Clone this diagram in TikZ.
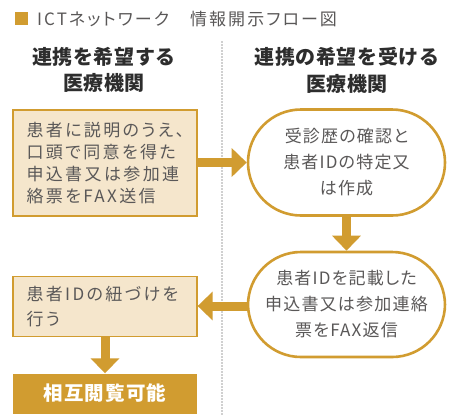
\documentclass[tikz,border=0pt]{standalone}
\usepackage{fontspec}
\usetikzlibrary{arrows.meta}
\newfontfamily\jptitle[LetterSpace=12,RawFeature=+palt]{Noto Sans CJK JP}
\newfontfamily\jphead[LetterSpace=3]{Noto Sans CJK JP}
\newfontfamily\jpbox[LetterSpace=14,RawFeature=+palt]{Noto Sans CJK JP}
\newfontfamily\jpell[LetterSpace=7,RawFeature=+palt]{Noto Sans CJK JP}
\newfontfamily\jpfin[LetterSpace=6]{Noto Sans CJK JP}
\definecolor{gold}{RGB}{209,156,48}
\definecolor{beige}{RGB}{245,230,204}
\definecolor{txt}{RGB}{90,88,88}
\definecolor{headtxt}{RGB}{45,45,45}
\definecolor{dotc}{RGB}{160,160,160}
\tikzset{
  sqmark/.style={fill=gold, minimum width=13, minimum height=13, inner sep=0},
  titletxt/.style={text=txt, font=\jptitle\fontsize{17}{18}\selectfont, inner sep=0},
  headtxt/.style={text=headtxt, font=\jphead\bfseries\fontsize{20}{26.7}\selectfont, align=center, inner sep=0},
  boxst/.style={draw=gold, fill=beige, line width=1.3, minimum width=184, text width=157, inner xsep=13.5, inner ysep=0, align=left, text=txt},
  pill/.style={draw=gold, fill=white, line width=2.6, minimum width=197, rounded corners=53, align=center, text=txt, inner sep=0, font=\jpell\fontsize{17}{26}\selectfont},
  finalbox/.style={fill=gold, minimum width=184, minimum height=40, inner sep=0, text=white, font=\jpfin\bfseries\fontsize{19.5}{22}\selectfont},
  bigarrow/.style={draw=gold, line width=9, -{Triangle[length=15pt,width=28pt]}},
  dotline/.style={draw=dotc, line width=1.6, line cap=round, dash pattern=on 0pt off 3pt}
}
\begin{document}
\begin{tikzpicture}[x=1pt,y=-1pt]
\useasboundingbox[fill=white] (0,0) rectangle (454,416);
\node[sqmark] (sq) at (21.5,18.5) {};
\node[titletxt, anchor=west] (title) at (37,19) {ICTネットワーク　情報開示フロー図};
\node[headtxt] (h1) at (104,70) {連携を希望する\\医療機関};
\node[headtxt] (h2) at (347,70) {連携の希望を受ける\\医療機関};
\coordinate (dtop) at (222,42);
\coordinate (dbot) at (222,416);
\draw[dotline] (dtop) -- (dbot);
\node[boxst, minimum height=106, font=\jpbox\fontsize{17}{22}\selectfont] (b1) at (105,163) {患者に説明のうえ、\\口頭で同意を得た\\申込書又は参加連\\絡票をFAX送信};
\node[pill, minimum height=106] (e1) at (346.5,162.5) {受診歴の確認と\\患者IDの特定又\\は作成};
\node[pill, minimum height=105] (e2) at (346.5,304.5) {患者IDを記載した\\申込書又は参加連絡\\票をFAX返信};
\node[boxst, minimum height=60, font=\jpbox\fontsize{17}{25}\selectfont] (b2) at (105,306.7) {患者IDの紐づけを\\行う};
\node[finalbox] (b3) at (105,393.5) {相互閲覧可能};
\draw[bigarrow] (b1.east |- 0,162.5) -- (e1.west |- 0,162.5);
\draw[bigarrow] (e1.south) -- (e2.north);
\draw[bigarrow] (e2.west |- 0,306) -- (b2.east |- 0,306);
\draw[bigarrow] (b2.south) -- (b3.north);
\end{tikzpicture}
\end{document}
